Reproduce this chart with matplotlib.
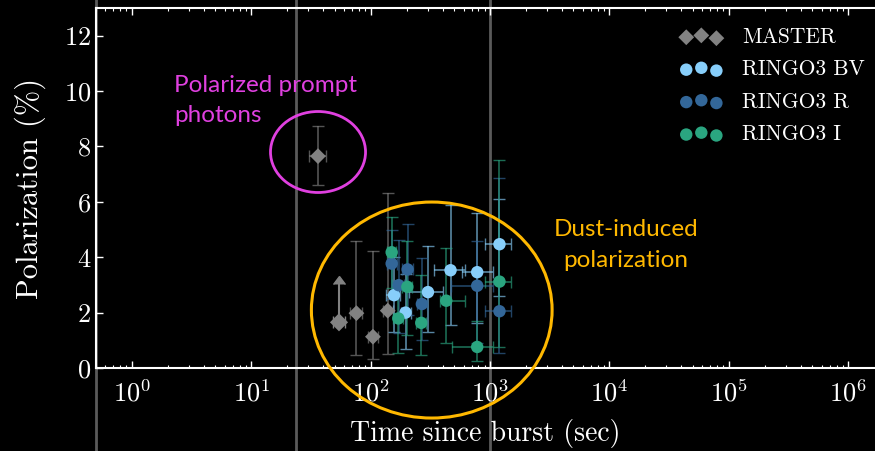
import numpy as np
import matplotlib
matplotlib.use("Agg")
import matplotlib.pyplot as plt
from matplotlib.patches import Ellipse

plt.rcParams['font.family'] = 'serif'
plt.rcParams['font.serif'] = ['cmr10']
plt.rcParams['mathtext.fontset'] = 'cm'
plt.rcParams['axes.formatter.use_mathtext'] = True
plt.rcParams['axes.unicode_minus'] = False

# MASTER points (time, time range, polarization, pol range)
master_t = [36.2, 76, 104.5, 139]
master_t_lo = [30.3, 67.6, 95, 126]
master_t_hi = [42.0, 85.3, 115, 153]
master_p = [7.65, 1.98, 1.13, 2.07]
master_p_lo = [6.6, 0.47, 0.31, 0.49]
master_p_hi = [8.75, 4.58, 4.23, 6.32]

# MASTER lower limit
mlim_t = [54.3]
mlim_t_lo = [48.5]
mlim_t_hi = [61]
mlim_p = [1.65]
mlim_p_hi = [3.05]

# RINGO3 BV
bv_t = [157, 196, 302, 467, 781, 1200]
bv_t_lo = [134, 178, 208, 337, 585, 912]
bv_t_hi = [175, 219, 401, 612, 1069, 1504]
bv_p = [2.63, 2.0, 2.74, 3.53, 3.46, 4.47]
bv_p_lo = [1.3, 0.68, 1.31, 1.54, 1.63, 2.6]
bv_p_hi = [4.0, 3.4, 4.41, 5.9, 5.61, 6.11]

# RINGO3 R
r_t = [150, 171.6, 204, 268.6, 781, 1200]
r_t_lo = [136, 152, 184, 245, 473, 912]
r_t_hi = [165, 189, 226, 295, 1055, 1504]
r_p = [3.77, 2.99, 3.56, 2.31, 2.97, 2.05]
r_p_lo = [2.5, 1.27, 1.9, 1.0, 0.9, 0.53]
r_p_hi = [5.0, 4.64, 5.21, 3.99, 4.6, 6.86]

# RINGO3 I
i_t = [150, 170.5, 203, 265.5, 430, 781, 1200]
i_t_lo = [137, 155, 184, 240, 378, 479, 912]
i_t_hi = [164, 188, 224, 292, 612, 1069, 1504]
i_p = [4.18, 1.79, 2.93, 1.63, 2.43, 0.76, 3.12]
i_p_lo = [2.9, 0.55, 1.2, 0.47, 0.91, 0.24, 0.77]
i_p_hi = [5.45, 3.0, 4.59, 3.35, 4.34, 1.7, 7.52]

x_ticks = [1, 10, 100, 1000, 1e4, 1e5, 1e6]
y_ticks = [0, 2, 4, 6, 8, 10, 12]

c_master = '#828282'
c_bv = '#87CEFA'
c_r = '#336799'
c_i = '#2AA580'

fig = plt.figure(figsize=(8.75, 4.51), dpi=100, facecolor='black')
ax = fig.add_axes([96 / 875, 83 / 451, 779 / 875, 360 / 451], facecolor='black')

def errs(v, lo, hi):
    v = np.array(v)
    return [v - np.array(lo), np.array(hi) - v]

def draw(t, tlo, thi, p, plo, phi, color, marker, s, label):
    ax.errorbar(t, p, xerr=errs(t, tlo, thi), yerr=errs(p, plo, phi), fmt='none',
                ecolor=color, elinewidth=1.2, capsize=4, alpha=0.65, zorder=3)
    ax.scatter(t, p, color=color, marker=marker, s=s, zorder=5, label=label,
               edgecolors='none')

draw(master_t, master_t_lo, master_t_hi, master_p, master_p_lo, master_p_hi,
     c_master, 'D', 65, 'MASTER')
ax.errorbar(mlim_t, mlim_p, xerr=errs(mlim_t, mlim_t_lo, mlim_t_hi),
            yerr=[[0], np.array(mlim_p_hi) - np.array(mlim_p)], lolims=True,
            fmt='none', color=c_master, ecolor=c_master, elinewidth=1.5, capsize=4,
            markersize=8, zorder=3)
ax.scatter(mlim_t, mlim_p, color=c_master, marker='D', s=85, zorder=5,
           edgecolors='none')
draw(bv_t, bv_t_lo, bv_t_hi, bv_p, bv_p_lo, bv_p_hi, c_bv, 'o', 80, 'RINGO3 BV')
draw(r_t, r_t_lo, r_t_hi, r_p, r_p_lo, r_p_hi, c_r, 'o', 80, 'RINGO3 R')
draw(i_t, i_t_lo, i_t_hi, i_p, i_p_lo, i_p_hi, c_i, 'o', 80, 'RINGO3 I')

# vertical reference lines running past the axes
for xv in [0.5, 23.6, 1000]:
    ax.axvline(xv, ymin=-0.25, ymax=1.05, color='#5a5a5a', lw=2, clip_on=False, zorder=1)

ax.set_xscale('log')
ax.set_xlim(0.5, 1.68e6)
ax.set_ylim(0, 13)
ax.set_xticks(x_ticks)
ax.set_yticks(y_ticks)

for side in ['left', 'top', 'bottom']:
    ax.spines[side].set_color('white')
    ax.spines[side].set_linewidth(1.5)
    ax.spines[side].set_zorder(6)
ax.spines['right'].set_visible(False)

ax.tick_params(which='both', direction='in', colors='white', top=True, right=False,
               labelsize=19)
ax.tick_params(which='major', length=5, width=1)
ax.tick_params(which='minor', length=2.5, width=0.8)
ax.tick_params(axis='x', pad=8)

ax.set_xlabel('Time since burst (sec)', color='white', fontsize=20, labelpad=9)
ax.set_ylabel('Polarization (%)', color='white', fontsize=22, labelpad=13)

leg = ax.legend(loc='upper right', frameon=False, fontsize=15.5, labelcolor='white',
                scatterpoints=3, handlelength=2.0, handletextpad=0.9,
                labelspacing=0.6, bbox_to_anchor=(1.012, 1.0))

# annotations
ax.add_patch(Ellipse((0.285, 0.6), 0.122, 0.225, transform=ax.transAxes,
                     fill=False, edgecolor='#E040E0', lw=2, clip_on=False, zorder=7))
ax.add_patch(Ellipse((0.431, 0.161), 0.309, 0.6, transform=ax.transAxes,
                     fill=False, edgecolor='#FFB800', lw=2.2, clip_on=False, zorder=7))
ax.text((174 - 96) / 779, (368 - 75) / 360, 'Polarized prompt\nphotons', transform=ax.transAxes,
        color='#E040E0', fontsize=17.5, family='Lato', ha='left', va='top', linespacing=1.55)
ax.text((626 - 96) / 779, (368 - 245) / 360, 'Dust-induced\npolarization', transform=ax.transAxes,
        color='#FFB800', fontsize=17.5, family='Lato', ha='center', va='center', linespacing=1.6)

fig.savefig('out.png', dpi=100, facecolor='black')
